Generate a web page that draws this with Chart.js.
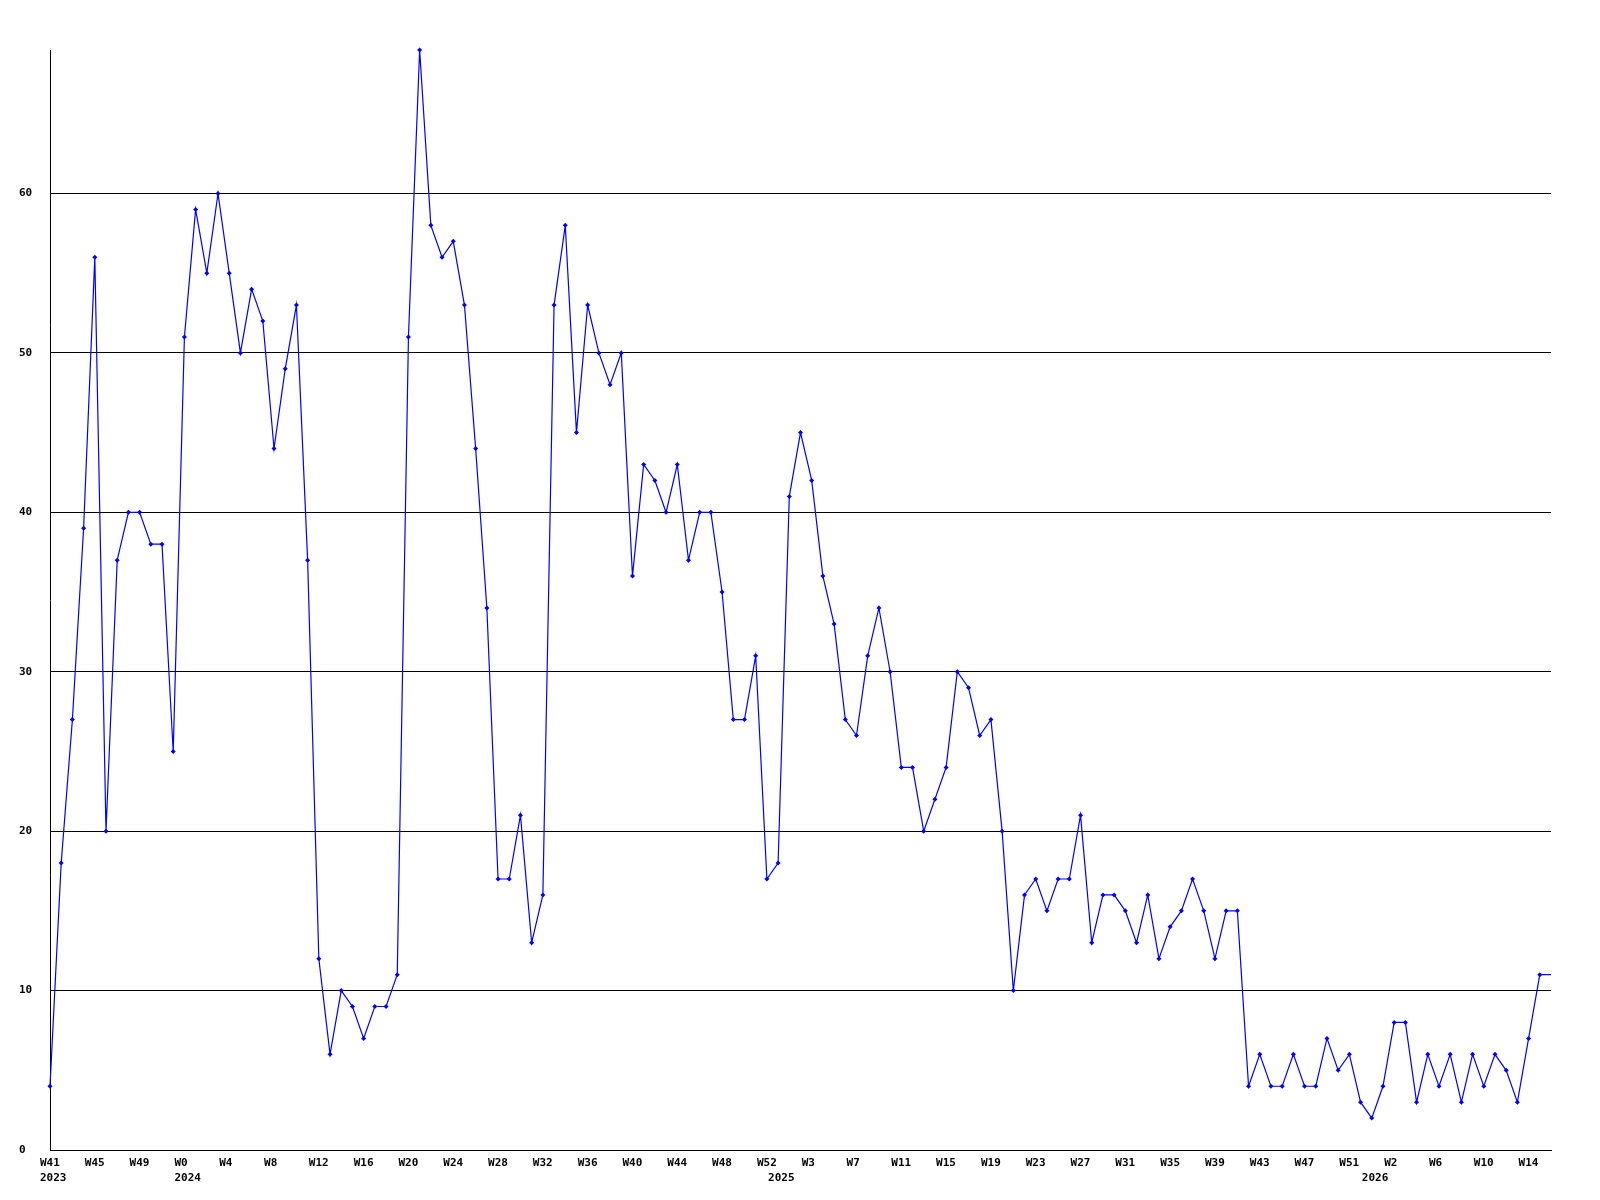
<!DOCTYPE html>
<html>
<head>
<meta charset="utf-8">
<script src="https://cdn.jsdelivr.net/npm/chart.js@4.4.0/dist/chart.umd.min.js"></script>
<style>
  body { margin: 0; background: #fff; }
  canvas { display: block; }
</style>
</head>
<body>
<canvas id="chart" width="1600" height="1200"></canvas>
<script>
// weeks shown on the x axis, one segment per year
const years = [2023, 2024, 2025, 2026];
const firstWeek = [41, 0, 0, 0];
const lastWeek = [52, 52, 52, 16];

// weekly counts, W41 2023 .. W16 2026
const values = [
    4, 18, 27, 39, 56, 20, 37, 40, 40, 38, 38, 25,
    51, 59, 55, 60, 55, 50, 54, 52, 44, 49, 53, 37, 12, 6, 10, 9, 7, 9, 9, 11,
    51, 69, 58, 56, 57, 53, 44, 34, 17, 17, 21, 13, 16, 53, 58, 45, 53, 50, 48, 50,
    36, 43, 42, 40, 43, 37, 40, 40, 35, 27, 27, 31, 17,
    18, 41, 45, 42, 36, 33, 27, 26, 31, 34, 30, 24, 24, 20, 22, 24, 30, 29, 26, 27,
    20, 10, 16, 17, 15, 17, 17, 21, 13, 16, 16, 15, 13, 16, 12, 14, 15, 17, 15, 12,
    15, 15, 4, 6, 4, 4, 6, 4, 4, 7, 5, 6, 3,
    2, 4, 8, 8, 3, 6, 4, 6, 3, 6, 4, 6, 5, 3, 7, 11, 11
];

const yMax = 69;
const yStep = 10;

const labels = [];
const yearAt = {};
years.forEach((y, k) => {
    yearAt[labels.length] = String(y);
    for (let w = firstWeek[k]; w <= lastWeek[k]; w++) labels.push('W' + w);
});

const font = { family: "'DejaVu Sans Mono', monospace", size: 11, weight: 'bold' };
const last = values.length - 1;

new Chart(document.getElementById('chart'), {
    type: 'line',
    data: {
        labels: labels,
        datasets: [{
            data: values,
            borderColor: '#0000ff',
            backgroundColor: '#0000ff',
            borderWidth: 1.2,
            tension: 0,
            fill: false,
            pointStyle: 'rectRot',
            pointRadius: ctx => ctx.dataIndex === last ? 0 : 2.5,
            pointBorderWidth: 0,
            clip: 8
        }]
    },
    options: {
        responsive: false,
        animation: false,
        devicePixelRatio: 1,
        layout: { padding: { left: 19, right: 49, top: 50, bottom: 13 } },
        plugins: { legend: { display: false }, tooltip: { enabled: false } },
        scales: {
            x: {
                type: 'category',
                offset: false,
                grid: { display: false, drawTicks: false },
                border: { display: true, color: '#000', width: 1 },
                ticks: {
                    autoSkip: false, maxRotation: 0, minRotation: 0,
                    align: 'start', labelOffset: -10, padding: 7,
                    color: '#000', font: font,
                    callback: (v, i) => i % 4 === 0 ? labels[i] : ''
                },
                afterFit: s => { s.height = 22; }
            },
            x2: {
                type: 'category',
                position: 'bottom',
                weight: 1,
                offset: false,
                grid: { display: false, drawTicks: false },
                border: { display: false },
                ticks: {
                    autoSkip: false, maxRotation: 0, minRotation: 0,
                    align: 'start', labelOffset: -10, padding: 0,
                    color: '#000', font: font,
                    callback: (v, i) => yearAt[i] || ''
                },
                afterFit: s => { s.height = 15; }
            },
            y: {
                min: 0,
                max: yMax,
                grid: { color: '#000', lineWidth: 1, drawTicks: false },
                border: { display: true, color: '#000', width: 1 },
                ticks: {
                    stepSize: yStep, includeBounds: false,
                    crossAlign: 'far', padding: 18,
                    color: '#000', font: font
                },
                afterFit: s => { s.width = 31; }
            }
        }
    }
});
</script>
</body>
</html>
